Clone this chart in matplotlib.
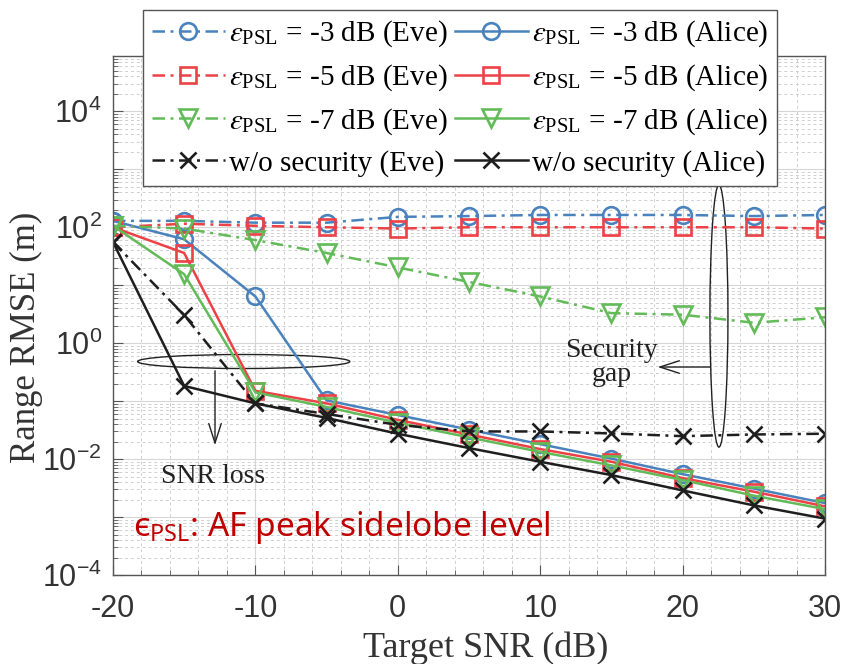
import matplotlib
matplotlib.use('Agg')
import matplotlib.pyplot as plt
from matplotlib.patches import Ellipse
from matplotlib.font_manager import FontProperties
import numpy as np

# ===== DATA =====
snr = [-20, -15, -10, -5, 0, 5, 10, 15, 20, 25, 30]
eve_3 = [129, 129, 120, 120, 151, 156, 163, 163, 163, 156, 163]
eve_5 = [100, 115, 106, 100, 95, 100, 100, 100, 100, 100, 95]
eve_7 = [106, 95, 60, 36, 20.3, 11.4, 6.4, 3.3, 3.1, 2.25, 2.8]
alice_3 = [129, 62, 6.4, 0.103, 0.0576, 0.0323, 0.0181, 0.0102, 0.0055, 0.0031, 0.00174]
alice_5 = [100, 36, 0.151, 0.0915, 0.0475, 0.0266, 0.0149, 0.009, 0.0047, 0.00274, 0.00153]
alice_7 = [106, 15.5, 0.1415, 0.0794, 0.0423, 0.0237, 0.0133, 0.0078, 0.00435, 0.00234, 0.00137]
eve_nosec = [55.8, 3.06, 0.0915, 0.06, 0.039, 0.03, 0.03, 0.0277, 0.0249, 0.0266, 0.0274]
alice_nosec = [55.8, 0.183, 0.0915, 0.0513, 0.0274, 0.0155, 0.009, 0.0053, 0.00288, 0.00159, 0.00094]

BLUE = '#4a82bd'
RED = '#ec4146'
GREEN = '#62bb58'
BLACK = '#1e1e1e'
dashdot = (0, (5, 2.2, 1.2, 2.2))

fig = plt.figure(figsize=(8.43, 6.64), dpi=100)
ax = fig.add_axes([0.134, 0.134, 0.8447, 0.7816])
ax.set_yscale('log')

kw = dict(lw=1.8, mew=1.9, mfc='none')
ax.plot(snr, eve_3, ls=dashdot, color=BLUE, marker='o', ms=12, label=r'$\epsilon_{\mathregular{PSL}}$ = -3 dB (Eve)', **kw)
ax.plot(snr, alice_3, ls='-', color=BLUE, marker='o', ms=12, label=r'$\epsilon_{\mathregular{PSL}}$ = -3 dB (Alice)', **kw)
ax.plot(snr, eve_5, ls=dashdot, color=RED, marker='s', ms=11, label=r'$\epsilon_{\mathregular{PSL}}$ = -5 dB (Eve)', **kw)
ax.plot(snr, alice_5, ls='-', color=RED, marker='s', ms=11, label=r'$\epsilon_{\mathregular{PSL}}$ = -5 dB (Alice)', **kw)
ax.plot(snr, eve_7, ls=dashdot, color=GREEN, marker='v', ms=13, label=r'$\epsilon_{\mathregular{PSL}}$ = -7 dB (Eve)', **kw)
ax.plot(snr, alice_7, ls='-', color=GREEN, marker='v', ms=13, label=r'$\epsilon_{\mathregular{PSL}}$ = -7 dB (Alice)', **kw)
ax.plot(snr, eve_nosec, ls=dashdot, color=BLACK, marker='x', ms=11, label='w/o security (Eve)', **kw)
ax.plot(snr, alice_nosec, ls='-', color=BLACK, marker='x', ms=11, label='w/o security (Alice)', **kw)

ax.set_xlim(-20, 30)
ax.set_ylim(1e-4, 5e4)
ax.set_xticks(np.arange(-20, 31, 10))
ax.set_xticks(np.arange(-20, 31, 2), minor=True)
ax.set_yticks([10.0 ** k for k in range(-4, 5)])
ax.set_yticks([m * 10.0 ** k for k in range(-4, 5) for m in range(2, 10)], minor=True)
ax.set_yticklabels([r'$\mathregular{10^{%d}}$' % k if k % 2 == 0 else '' for k in range(-4, 5)])
ax.set_xticklabels(['-20', '-10', '0', '10', '20', '30'])
for lab in ax.get_xticklabels() + ax.get_yticklabels():
    lab.set_fontfamily('Liberation Sans')
    lab.set_fontsize(22)
    lab.set_color('#333333')
ax.tick_params(which='both', direction='in', color='#555555')
ax.tick_params(which='major', length=7, width=0.8)
ax.tick_params(which='minor', length=3.5, width=0.6)
ax.tick_params(axis='x', pad=14)
ax.tick_params(axis='y', pad=8)
ax.grid(which='major', color='#d6d6d6', lw=0.8, ls='-')
ax.grid(which='minor', color='#cfcfcf', lw=0.7, ls=(0, (3, 3)))
ax.set_axisbelow(True)
for s in ax.spines.values():
    s.set_color('#555555')
    s.set_linewidth(1.0)

ax.set_xlabel('Target SNR (dB)', fontfamily='Liberation Serif', fontsize=26, color='#333333', va='center')
ax.xaxis.set_label_coords(0.524, -0.1407)
ax.set_ylabel('Range RMSE (m)', fontfamily='Liberation Serif', fontsize=25, color='#333333', va='center')
ax.yaxis.set_label_coords(-0.121, 0.4586)

# legend (two columns, Eve left, Alice right)
h, l = ax.get_legend_handles_labels()
order = [0, 2, 4, 6, 1, 3, 5, 7]
prop = FontProperties(family='Liberation Serif', size=21, math_fontfamily='stix')
leg = fig.legend([h[i] for i in order], [l[i] for i in order], ncol=2, prop=prop,
                 loc='upper left', bbox_to_anchor=(0.1696, 0.985), borderaxespad=0,
                 handlelength=2.5, handletextpad=0.15, columnspacing=0.25, labelspacing=0.45,
                 borderpad=0.3, frameon=True, fancybox=False, framealpha=1)
leg.get_frame().set_edgecolor('#555555')
leg.get_frame().set_linewidth(1.0)

# annotations
arrow = dict(arrowstyle='->,head_length=1.4,head_width=0.45', lw=1.0, color='#222222')
ax.add_patch(Ellipse((0.1836, 0.4114), 0.298, 0.027, transform=ax.transAxes, fill=False, lw=1.0, ec='#222222'))
ax.annotate('', xy=(0.1433, 0.2447), xytext=(0.1433, 0.3988), xycoords='axes fraction', arrowprops=arrow)
ax.text(0.1404, 0.1908, 'SNR loss', transform=ax.transAxes, ha='center', va='center',
        fontfamily='Liberation Serif', fontsize=20, color='#222222')
ax.add_patch(Ellipse((0.851, 0.499), 0.0253, 0.505, transform=ax.transAxes, fill=False, lw=1.0, ec='#222222'))
ax.annotate('', xy=(0.761, 0.4008), xytext=(0.843, 0.4008), xycoords='axes fraction', arrowprops=arrow)
ax.text(0.70, 0.41, 'Security\ngap', transform=ax.transAxes, ha='center', va='center',
        fontfamily='Liberation Serif', fontsize=20, color='#222222', linespacing=0.95)
ax.text(0.028, 0.0925, r'$\mathregular{ϵ_{PSL}}$: AF peak sidelobe level', transform=ax.transAxes,
        ha='left', va='center', fontfamily='Noto Sans', fontsize=24, color='#c00000')

fig.savefig('out.png', dpi=100)
